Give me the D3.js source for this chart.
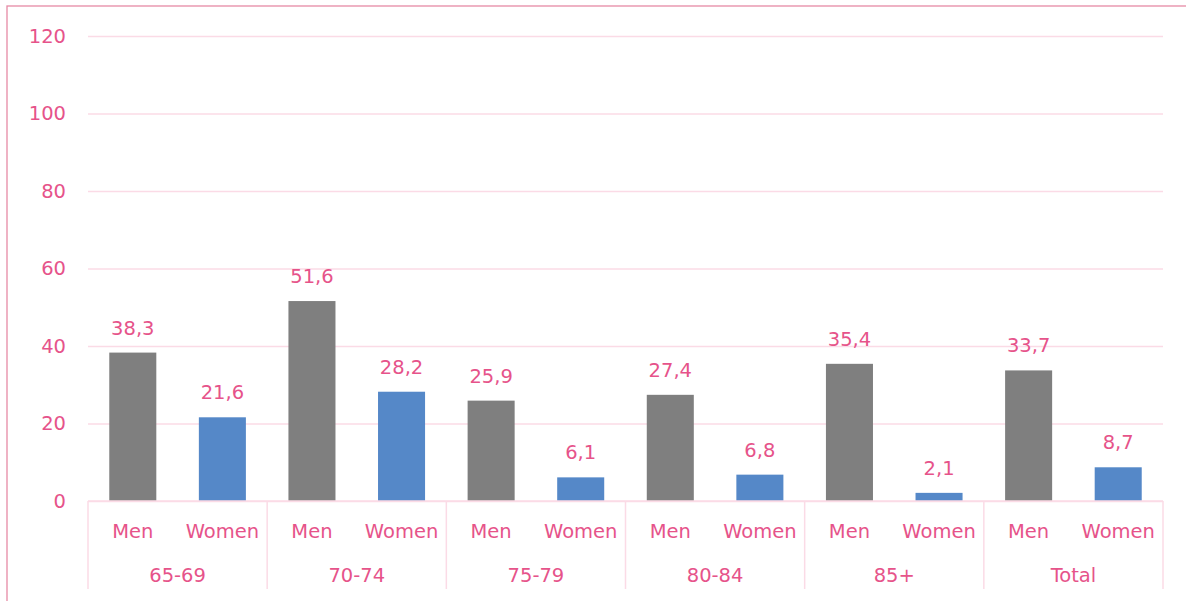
<!DOCTYPE html>
<html><head><meta charset="utf-8">
<script src="https://cdn.jsdelivr.net/npm/d3@7"></script>
<style>body{margin:0;background:#fff}svg{display:block}</style>
</head><body><svg id="c" width="1186" height="601"></svg>
<script>
const groups = ["65-69","70-74","75-79","80-84","85+","Total"];
const sexes = ["Men","Women"];
const menValues = [38.3,51.6,25.9,27.4,35.4,33.7];
const womenValues = [21.6,28.2,6.1,6.8,2.1,8.7];
const yTicks = [0,20,40,60,80,100,120];

const svg = d3.select("#c");
const font = "'DejaVu Sans', sans-serif";
const fs = 19.5;
const pink = "#e6538a";
const grid = "#fbdbe6";
const m = {left:88, right:1163, top:36, bottom:501};

svg.append("rect").attr("x",7).attr("y",6).attr("width",1200).attr("height",620)
  .attr("fill","none").attr("stroke","#e68aa5").attr("stroke-width",1.3);

const y = d3.scaleLinear().domain([0,120]).range([m.bottom,m.top]);
const x0 = d3.scaleBand().domain(groups).range([m.left,m.right]).padding(0);
const x1 = d3.scaleBand().domain(sexes).range([0,x0.bandwidth()]).paddingInner(0.475).paddingOuter(0.2375);

const yAxis = d3.axisLeft(y).tickValues(yTicks).tickSize(-(m.right-m.left)).tickPadding(22);
const ga = svg.append("g").attr("transform",`translate(${m.left},0)`).call(yAxis);
ga.select(".domain").remove();
ga.selectAll(".tick line").attr("stroke",grid).attr("stroke-width",1.5);
ga.selectAll(".tick text").attr("fill",pink).attr("font-family",font).attr("font-size",fs);

const data = groups.map((g,i)=>({g, vals:[{s:"Men",v:menValues[i]},{s:"Women",v:womenValues[i]}]}));
const colors = {Men:"#7f7f7f", Women:"#5588c8"};

const gg = svg.selectAll("g.grp").data(data).join("g").attr("class","grp")
  .attr("transform",d=>`translate(${x0(d.g)},0)`);
gg.selectAll("rect").data(d=>d.vals).join("rect")
  .attr("x",d=>x1(d.s)).attr("width",x1.bandwidth())
  .attr("y",d=>y(d.v)).attr("height",d=>y(0)-y(d.v)).attr("fill",d=>colors[d.s]);
gg.selectAll("text.val").data(d=>d.vals).join("text").attr("class","val")
  .attr("x",d=>x1(d.s)+x1.bandwidth()/2).attr("y",d=>y(d.v)-18)
  .attr("text-anchor","middle").attr("fill",pink).attr("font-family",font).attr("font-size",fs)
  .text(d=>d3.format(".1f")(d.v).replace(".",","));
gg.selectAll("text.sex").data(d=>d.vals).join("text").attr("class","sex")
  .attr("x",d=>x1(d.s)+x1.bandwidth()/2).attr("y",538)
  .attr("text-anchor","middle").attr("fill",pink).attr("font-family",font).attr("font-size",fs)
  .text(d=>d.s);
gg.append("text").attr("x",x0.bandwidth()/2).attr("y",582)
  .attr("text-anchor","middle").attr("fill",pink).attr("font-family",font).attr("font-size",fs)
  .text(d=>d.g);

// axis baseline and separators
svg.append("line").attr("x1",m.left).attr("x2",m.right).attr("y1",y(0)).attr("y2",y(0))
  .attr("stroke",grid).attr("stroke-width",1.5);
const seps = groups.map(g=>x0(g)).concat([m.right]);
svg.selectAll("line.sep").data(seps).join("line").attr("class","sep")
  .attr("x1",d=>d).attr("x2",d=>d).attr("y1",y(0)).attr("y2",589)
  .attr("stroke",grid).attr("stroke-width",1.5);
</script></body></html>
